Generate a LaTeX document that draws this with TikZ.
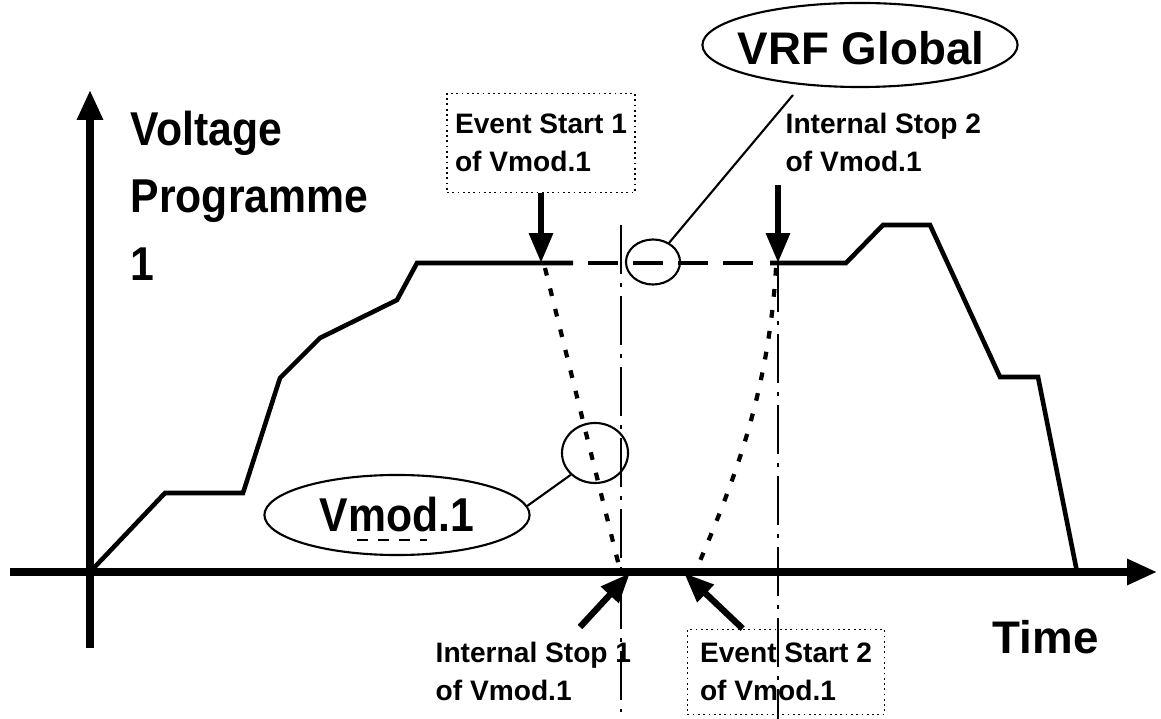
\documentclass[tikz,border=0pt]{standalone}
\usepackage{fontspec}
\setmainfont{Liberation Sans}
\newfontfamily\narrowfont[FakeStretch=0.9]{Liberation Sans}
\usetikzlibrary{arrows.meta,shapes.geometric}

\tikzset{
	curve/.style={line width=1.3pt},
	axis/.style={line width=2pt, -{Triangle[length=8.5pt,width=7pt]}},
	bigarrow/.style={line width=1.8pt, -{Triangle[length=8.5pt,width=6.5pt]}},
	marker/.style={line width=0.6pt, dash pattern=on 14pt off 2.5pt on 1.2pt off 2.5pt},
	dots/.style={line width=1.2pt, dash pattern=on 2.2pt off 3.8pt},
	bigtext/.style={font=\fontsize{13}{19}\selectfont\bfseries, inner sep=0pt, align=left},
	narrowtext/.style={font=\narrowfont\fontsize{13.5}{19.3}\selectfont\bfseries, inner sep=0pt, align=left},
	smalltext/.style={font=\fontsize{8}{10.8}\selectfont\bfseries, inner sep=0pt, align=left},
	lbox/.style={smalltext, draw, densely dotted, line width=0.5pt},
	ring/.style={draw, ellipse, line width=0.6pt, inner sep=0pt},
}

\begin{document}
\begin{tikzpicture}
	[x=0.01cm, y=-0.01cm]
	\useasboundingbox (0,0) rectangle (1161,719);
	% axes
	\coordinate (o) at (90,572);
	\draw[axis] (10,572) -- (1157,572);
	\draw[axis] (90,648) -- (90,90);
	\node[narrowtext, anchor=north west] (ylab) at (130,110) {Voltage\\Programme\\1};
	\node[bigtext, anchor=north west] (xlab) at (992,620) {Time};
	
	% voltage programme
	\coordinate (es1pt) at (545,263);
	\coordinate (is2pt) at (778,263);
	\draw[curve] (o) -- (165,493) -- (243,493) -- (280,378) -- (320,338) -- (397,300) -- (417,263) -- (573,263);
	\draw[curve, dash pattern=on 8.5pt off 4.3pt] (588,263) -- (757,263);
	\draw[curve] (770,263) -- (846,263) -- (883,225) -- (930,225) -- (1000,377) -- (1038,377) -- (1077,572);
	
	% marker lines
	\foreach \x/\top/\bot in {621/225/712,778/263/719}
	\draw[marker] (\x,\top) -- (\x,\bot);
	
	% vmod.1 ramps
	\coordinate (is1pt) at (630,573);
	\coordinate (es2pt) at (684,573);
	\draw[dots] (545,268) -- (619,566);
	\draw[dots] (776,268) .. controls (768,400) and (730,490) .. (697,568);
	
	% labels
	\node[lbox, minimum width=1.88cm, minimum height=0.99cm] (es1) at (541,143) {Event Start 1\\of Vmod.1};
	\node[smalltext, anchor=north west] (is2) at (785,112) {Internal Stop 2\\of Vmod.1};
	\node[smalltext, anchor=north west] (is1) at (435,641) {Internal Stop 1\\of Vmod.1};
	\node[lbox, minimum width=1.97cm, minimum height=0.85cm] (es2) at (786,672) {Event Start 2\\of Vmod.1};
	\coordinate (is2tail) at (778,185);
	\coordinate (is1tail) at (580,627);
	
	\draw[bigarrow] (es1.south) -- (es1.south |- es1pt);
	\draw[bigarrow] (is2tail) -- (is2pt);
	\draw[bigarrow] (is1tail) -- (is1pt);
	\draw[bigarrow] ([xshift=0.56cm]es2.north west) -- (es2pt);
	
	% callouts
	\node[ring, minimum width=3.15cm, minimum height=0.84cm] (vrf) at (860,45) {};
	\node[bigtext] (vrftext) at (861,48) {VRF Global};
	\node[ring, minimum width=0.54cm, minimum height=0.45cm] (vrfc) at (653,262) {};
	\coordinate (vrftail) at (793,95);
	\draw[line width=0.6pt] (vrfc.50) -- (vrftail);
	
	\node[ring, narrowtext, minimum width=2.65cm, minimum height=0.8cm] (vmod) at (397,515) {Vmod.1};
	\draw[line width=0.5pt, dashed] (357,540) -- (427,540);
	\node[ring, minimum width=0.66cm, minimum height=0.6cm] (vmodc) at (595,453) {};
	\draw[line width=0.6pt] (vmodc.222) -- (vmod.4);
\end{tikzpicture}
\end{document}
